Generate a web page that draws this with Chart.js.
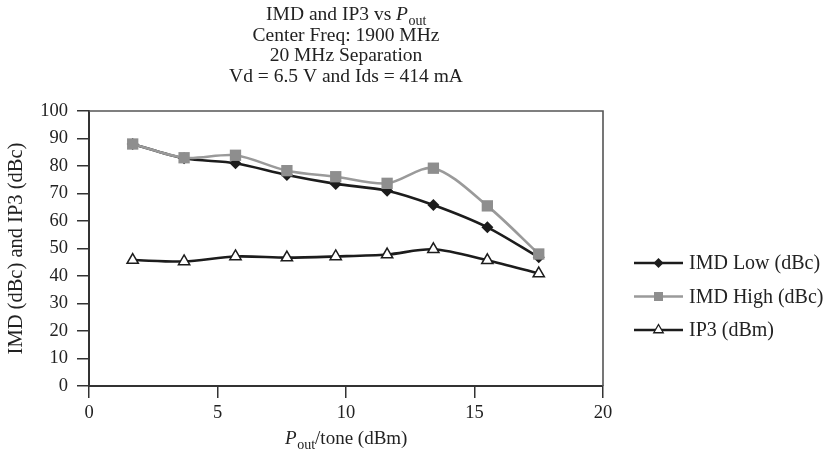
<!DOCTYPE html>
<html>
<head>
<meta charset="utf-8">
<script src="https://cdn.jsdelivr.net/npm/chart.js@4/dist/chart.umd.min.js"></script>
<style>
  html, body { margin: 0; padding: 0; background: #ffffff; }
  #wrap { width: 833px; height: 458px; }
</style>
</head>
<body>
<div id="wrap"><canvas id="c" width="833" height="458"></canvas></div>
<script>
// Output power per tone (dBm)
const pOutPerTone = [1.7, 3.7, 5.7, 7.7, 9.6, 11.6, 13.4, 15.5, 17.5];
// Lower intermod product (dBc)
const imdLow = [88, 82.8, 81, 76.7, 73.5, 71, 65.8, 57.7, 46.8];
// Upper intermod product (dBc)
const imdHigh = [88, 83, 83.9, 78.3, 76.1, 73.7, 79.2, 65.5, 48];
// Third-order intercept (dBm)
const ip3 = [45.8, 45.3, 47.1, 46.7, 47.1, 47.8, 49.7, 45.7, 40.9];

const seriesNames = ['IMD Low (dBc)', 'IMD High (dBc)', 'IP3 (dBm)'];
const titleLines = ['Center Freq: 1900 MHz', '20 MHz Separation', 'Vd = 6.5 V and Ids = 414 mA'];
const yAxisTitle = 'IMD (dBc) and IP3 (dBc)';

const FONT = "'Liberation Serif', 'Times New Roman', serif";
const TEXT = '#222222';
const BLACK = '#1c1c1c';
const GREY_LINE = '#9a9a9a';
const GREY_FILL = '#8e8e8e';

const toPoints = (ys) => pOutPerTone.map((x, i) => ({ x: x, y: ys[i] }));

// Draws italic "P" with subscript "out", wrapped by optional plain text, centred on x
function drawPout(ctx, x, y, size, before, after) {
  const plain = size + 'px ' + FONT;
  const ital = 'italic ' + size + 'px ' + FONT;
  const sub = Math.round(size * 0.72) + 'px ' + FONT;
  ctx.font = plain; const wB = ctx.measureText(before).width;
  ctx.font = ital; const wP = ctx.measureText('P').width;
  ctx.font = sub; const wS = ctx.measureText('out').width;
  ctx.font = plain; const wA = ctx.measureText(after).width;
  let cx = x - (wB + wP + wS + wA) / 2;
  ctx.textAlign = 'left';
  ctx.textBaseline = 'alphabetic';
  ctx.font = plain; ctx.fillText(before, cx, y); cx += wB;
  ctx.font = ital; ctx.fillText('P', cx, y); cx += wP + 0.5;
  ctx.font = sub; ctx.fillText('out', cx, y + size * 0.28); cx += wS;
  ctx.font = plain; ctx.fillText(after, cx, y);
}

function legendMarker(ctx, style, x, y) {
  ctx.beginPath();
  if (style === 'diamond') {
    const r = 5;
    ctx.moveTo(x, y - r); ctx.lineTo(x + r, y); ctx.lineTo(x, y + r); ctx.lineTo(x - r, y);
    ctx.closePath(); ctx.fillStyle = BLACK; ctx.fill();
  } else if (style === 'square') {
    const h = 4.5;
    ctx.rect(x - h, y - h, 2 * h, 2 * h); ctx.fillStyle = GREY_FILL; ctx.fill();
  } else {
    const r = 5.5;
    ctx.moveTo(x, y - r); ctx.lineTo(x + r * 0.866, y + r * 0.5); ctx.lineTo(x - r * 0.866, y + r * 0.5);
    ctx.closePath(); ctx.fillStyle = '#ffffff'; ctx.fill();
    ctx.lineWidth = 1.3; ctx.strokeStyle = BLACK; ctx.stroke();
  }
}

const decorations = {
  id: 'decorations',
  beforeDatasetsDraw(chart) {
    const { ctx, chartArea: a } = chart;
    ctx.save();
    ctx.strokeStyle = '#555555';
    ctx.lineWidth = 1.6;
    ctx.beginPath();
    ctx.moveTo(a.left, a.top);
    ctx.lineTo(a.right, a.top);
    ctx.lineTo(a.right, a.bottom);
    ctx.stroke();
    ctx.restore();
  },
  afterDraw(chart) {
    const { ctx, chartArea: a } = chart;
    const cx = (a.left + a.right) / 2;
    ctx.save();
    ctx.fillStyle = TEXT;
    // chart title
    drawPout(ctx, cx, 20, 19.5, 'IMD and IP3 vs ', '');
    ctx.font = '19.5px ' + FONT;
    ctx.textAlign = 'center';
    ctx.textBaseline = 'alphabetic';
    titleLines.forEach((t, i) => ctx.fillText(t, cx, 40.5 + i * 20.5));
    // x axis title
    drawPout(ctx, cx, 444, 19, '', '/tone (dBm)');
    // legend
    const styles = ['diamond', 'square', 'triangle'];
    const colors = [BLACK, GREY_LINE, BLACK];
    const rowY = [263, 296.5, 330];
    seriesNames.forEach((name, i) => {
      const y = rowY[i];
      ctx.strokeStyle = colors[i];
      ctx.lineWidth = 2.5;
      ctx.beginPath(); ctx.moveTo(634, y); ctx.lineTo(683, y); ctx.stroke();
      legendMarker(ctx, styles[i], 658.5, y);
      ctx.fillStyle = TEXT;
      ctx.font = '20px ' + FONT;
      ctx.textAlign = 'left';
      ctx.textBaseline = 'middle';
      ctx.fillText(name, 689, y + 1);
    });
    ctx.restore();
  }
};

new Chart(document.getElementById('c'), {
  type: 'line',
  data: {
    datasets: [
      {
        label: seriesNames[0],
        data: toPoints(imdLow),
        borderColor: BLACK,
        backgroundColor: BLACK,
        borderWidth: 2.6,
        pointStyle: 'rectRot',
        pointRadius: 6,
        pointBorderWidth: 0,
        tension: 0.3,
        order: 2
      },
      {
        label: seriesNames[1],
        data: toPoints(imdHigh),
        borderColor: GREY_LINE,
        backgroundColor: GREY_FILL,
        borderWidth: 2.6,
        pointStyle: 'rect',
        pointRadius: 8,
        pointBorderWidth: 0,
        tension: 0.3,
        order: 1
      },
      {
        label: seriesNames[2],
        data: toPoints(ip3),
        borderColor: BLACK,
        backgroundColor: '#ffffff',
        borderWidth: 2.6,
        pointStyle: 'triangle',
        pointRadius: 6.5,
        pointBorderWidth: 1.5,
        pointBorderColor: BLACK,
        pointBackgroundColor: '#ffffff',
        tension: 0.3,
        order: 0
      }
    ]
  },
  options: {
    responsive: false,
    animation: false,
    devicePixelRatio: 1,
    layout: { padding: { top: 111, right: 230, left: 0, bottom: 0 } },
    plugins: {
      legend: { display: false },
      title: { display: false },
      tooltip: { enabled: false }
    },
    scales: {
      x: {
        type: 'linear',
        min: 0,
        max: 20,
        ticks: {
          stepSize: 5,
          color: TEXT,
          font: { family: FONT, size: 18.5 },
          padding: 4,
          maxRotation: 0
        },
        grid: { drawOnChartArea: false, drawTicks: true, tickLength: 12, color: '#333333', lineWidth: 1.5 },
        border: { color: '#333333', width: 2 },
        afterFit(s) { s.height = 72; s.paddingLeft = 0; s.paddingRight = 0; }
      },
      y: {
        min: 0,
        max: 100,
        ticks: {
          stepSize: 10,
          color: TEXT,
          font: { family: FONT, size: 18.5 },
          padding: 9
        },
        grid: { drawOnChartArea: false, drawTicks: true, tickLength: 12, color: '#333333', lineWidth: 1.5 },
        border: { color: '#333333', width: 2 },
        title: {
          display: true,
          text: yAxisTitle,
          color: TEXT,
          font: { family: FONT, size: 20.5 },
          padding: { top: 4, bottom: 0 }
        },
        afterFit(s) { s.width = 89; s.paddingTop = 0; s.paddingBottom = 0; }
      }
    }
  },
  plugins: [decorations]
});
</script>
</body>
</html>
